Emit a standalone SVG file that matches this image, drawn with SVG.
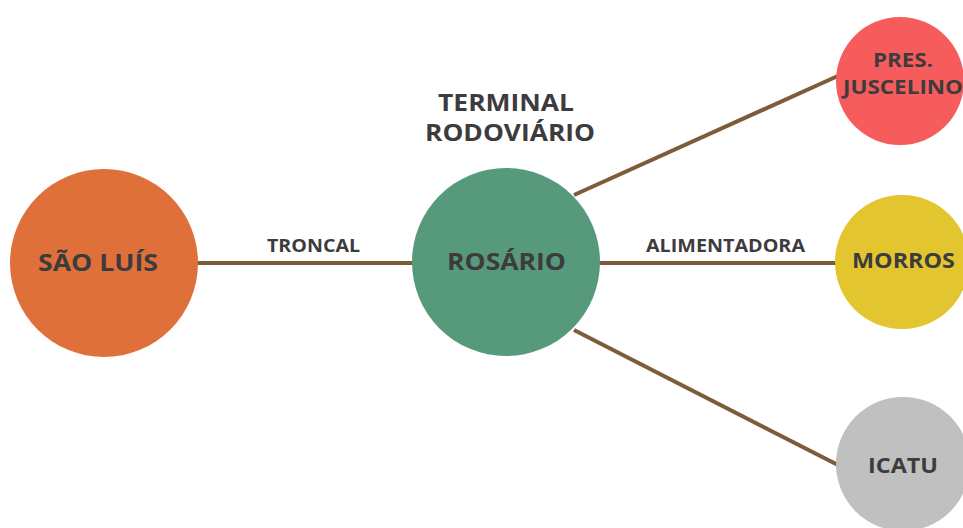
<svg xmlns="http://www.w3.org/2000/svg" width="963" height="528" viewBox="0 0 963 528">
<style>
text{font-family:"Open Sans","Liberation Sans",sans-serif;font-weight:700;fill:#3d3b3e;text-anchor:middle;dominant-baseline:central}
.big{font-size:22.5px}
.ttl{font-size:23px}
.mid{font-size:21px}
.sm{font-size:19px}
.lbl{font-size:18px}
.conn line{stroke:#7d5c3a;stroke-width:4}
</style>
<rect width="963" height="528" fill="#ffffff"/>
<g id="connectors" class="conn">
<line x1="197" y1="263" x2="414" y2="263"/>
<line x1="598" y1="263" x2="838" y2="263"/>
<line x1="574" y1="195" x2="840" y2="75"/>
<line x1="574" y1="330" x2="838" y2="465"/>
</g>
<g id="label-troncal"><text class="lbl" x="313.5" y="245" textLength="93" lengthAdjust="spacingAndGlyphs">TRONCAL</text></g>
<g id="label-alimentadora"><text class="lbl" x="725.5" y="245" textLength="159" lengthAdjust="spacingAndGlyphs">ALIMENTADORA</text></g>
<g id="sao-luis"><circle cx="104" cy="263" r="94" fill="#e0703a"/><text class="big" x="98" y="262" textLength="120" lengthAdjust="spacingAndGlyphs">SÃO LUÍS</text></g>
<g id="rosario"><circle cx="506" cy="262" r="94" fill="#57997b"/><text class="big" x="506.5" y="261" textLength="119" lengthAdjust="spacingAndGlyphs">ROSÁRIO</text></g>
<g id="terminal"><text class="ttl" x="506" y="102" textLength="136" lengthAdjust="spacingAndGlyphs">TERMINAL</text><text class="ttl" x="510" y="132" textLength="170" lengthAdjust="spacingAndGlyphs">RODOVIÁRIO</text></g>
<g id="pres-juscelino"><circle cx="900" cy="81" r="64" fill="#f55c5b"/><text class="sm" x="903" y="60" textLength="60" lengthAdjust="spacingAndGlyphs">PRES.</text><text class="sm" x="903" y="86.5" textLength="120" lengthAdjust="spacingAndGlyphs">JUSCELINO</text></g>
<g id="morros"><circle cx="902" cy="262" r="67" fill="#e2c52f"/><text class="mid" x="903.5" y="259.5" textLength="103" lengthAdjust="spacingAndGlyphs">MORROS</text></g>
<g id="icatu"><circle cx="903" cy="464" r="67" fill="#c0c0c0"/><text class="mid" x="903" y="465" textLength="70" lengthAdjust="spacingAndGlyphs">ICATU</text></g>
</svg>
